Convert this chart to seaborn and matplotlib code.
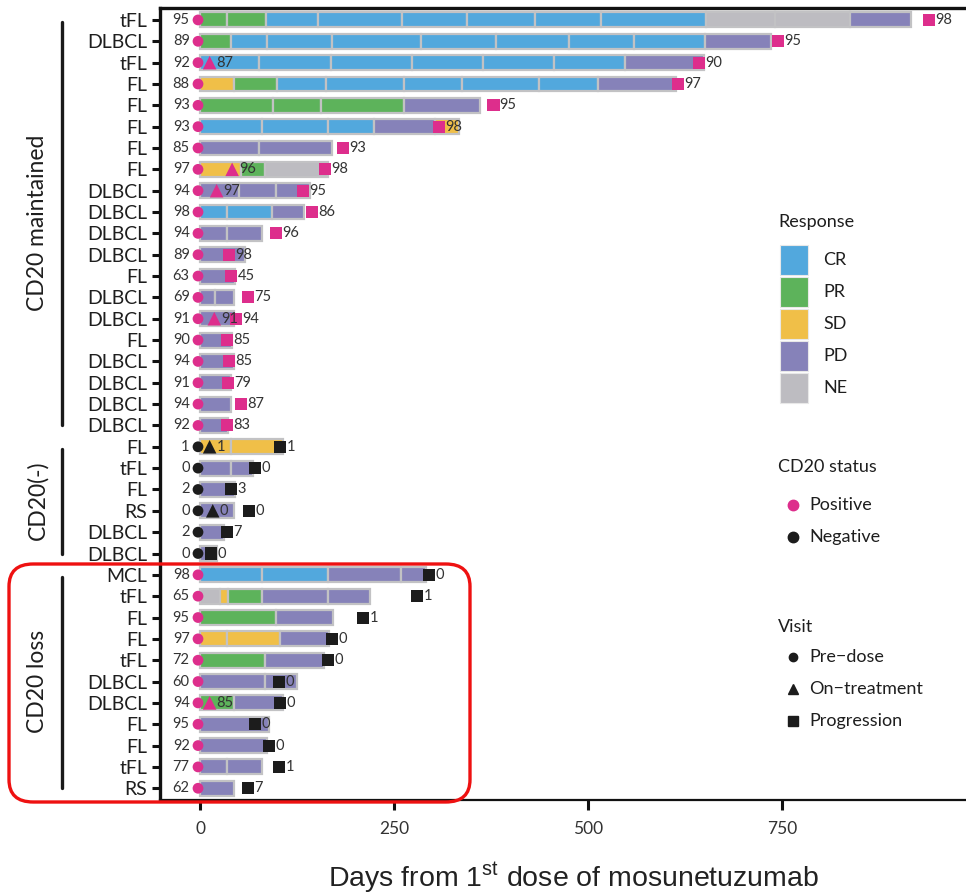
import numpy as np
import pandas as pd
import matplotlib
matplotlib.use("Agg")
import matplotlib.pyplot as plt
import matplotlib.transforms as mtransforms
from matplotlib.patches import Rectangle, FancyBboxPatch
from matplotlib.lines import Line2D
import seaborn as sns

# ---------------- data ----------------
histology = ["tFL", "DLBCL", "tFL", "FL", "FL", "FL", "FL", "FL", "DLBCL", "DLBCL",
             "DLBCL", "DLBCL", "FL", "DLBCL", "DLBCL", "FL", "DLBCL", "DLBCL", "DLBCL", "DLBCL",
             "FL", "tFL", "FL", "RS", "DLBCL", "DLBCL",
             "MCL", "tFL", "FL", "FL", "tFL", "DLBCL", "DLBCL", "FL", "FL", "tFL", "RS"]
group = ["CD20 maintained"] * 20 + ["CD20(-)"] * 6 + ["CD20 loss"] * 11
group_names = ["CD20 maintained", "CD20(-)", "CD20 loss"]

predose_pct = [95, 89, 92, 88, 93, 93, 85, 97, 94, 98, 94, 89, 63, 69, 91, 90, 94, 91, 94, 92,
               1, 0, 2, 0, 2, 0,
               98, 65, 95, 97, 72, 60, 94, 95, 92, 77, 62]

seg_resp = [
    ["PR", "PR", "CR", "CR", "CR", "CR", "CR", "CR", "NE", "NE", "PD"],
    ["PR", "CR", "CR", "CR", "CR", "CR", "CR", "CR", "PD"],
    ["CR", "CR", "CR", "CR", "CR", "CR", "PD"],
    ["SD", "PR", "CR", "CR", "CR", "CR", "CR", "PD"],
    ["PR", "PR", "PR", "PD"],
    ["CR", "CR", "CR", "PD", "SD"],
    ["PD", "PD"],
    ["SD", "PR", "NE"],
    ["PD", "PD", "PD"],
    ["CR", "CR", "PD"],
    ["PD", "PD"],
    ["PD"],
    ["PD"],
    ["PD", "PD"],
    ["PD"],
    ["PD"],
    ["PD"],
    ["PD"],
    ["PD"],
    ["PD"],
    ["SD", "SD"],
    ["PD", "PD"],
    ["PD"],
    ["PD"],
    ["PD"],
    ["PD"],
    ["CR", "CR", "PD", "PD"],
    ["NE", "SD", "PR", "PD", "PD"],
    ["PR", "PD"],
    ["SD", "SD", "PD"],
    ["PR", "PD"],
    ["PD", "PD"],
    ["PR", "PD"],
    ["PD"],
    ["PD"],
    ["PD", "PD"],
    ["PD"],
]
seg_end = [
    [35, 85, 152, 260, 344, 432, 517, 652, 741, 838, 916],
    [39, 86, 170, 284, 381, 476, 559, 651, 736],
    [76, 168, 273, 365, 456, 547, 649],
    [44, 99, 162, 262, 338, 437, 513, 613],
    [94, 155, 262, 360],
    [80, 165, 224, 303, 333],
    [76, 170],
    [52, 84, 165],
    [50, 98, 142],
    [35, 92, 134],
    [35, 80],
    [58],
    [45],
    [19, 43],
    [43],
    [41],
    [43],
    [40],
    [40],
    [36],
    [40, 106],
    [39, 68],
    [45],
    [43],
    [30],
    [22],
    [80, 165, 259, 291],
    [26, 36, 80, 164, 219],
    [97, 171],
    [35, 103, 166],
    [83, 159],
    [83, 125],
    [43, 107],
    [88],
    [86],
    [35, 80],
    [44],
]

ontreat_row = [2, 7, 8, 14, 20, 23, 32]
ontreat_day = [12, 41, 21, 18, 12, 16, 12]
ontreat_pct = [87, 96, 97, 91, 1, 0, 85]

prog_day = [939, 745, 643, 616, 378, 308, 184, 161, 133, 144, 98, 37, 40, 62, 46, 35, 37, 36, 52, 35,
            103, 71, 40, 63, 34, 14,
            295, 280, 210, 170, 165, 102, 103, 71, 89, 102, 61]
prog_pct = [98, 95, 90, 97, 95, 98, 93, 98, 95, 86, 96, 98, 45, 75, 94, 85, 85, 79, 87, 83,
            1, 0, 3, 0, 7, 0,
            0, 1, 1, 0, 0, 0, 0, 0, 0, 1, 7]

response_levels = ["CR", "PR", "SD", "PD", "NE"]
resp_colors = {"CR": "#52a8dd", "PR": "#5db35b", "SD": "#f0bf48", "PD": "#8682b9", "NE": "#bdbcc1"}
POS = "#dd2e8c"
NEG = "#1c1c1c"

# ---------------- style ----------------
sns.set_theme(style="ticks")
plt.rcParams["font.family"] = ["Lato", "DejaVu Sans"]
plt.rcParams["mathtext.fontset"] = "custom"
plt.rcParams["mathtext.rm"] = "Liberation Sans"

W, H = 966, 894
fig = plt.figure(figsize=(W / 100, H / 100), dpi=100)


def fx(px):
    return px / W


def fy(py):
    return 1 - py / H


ax = fig.add_axes([fx(160), fy(800), fx(972) - fx(160), fy(8) - fy(800)])

n = len(histology)
rows = np.arange(n)

# bars
for i in range(n):
    start = 0
    for r, e in zip(seg_resp[i], seg_end[i]):
        ax.barh(i, e - start, left=start, height=0.7, color=resp_colors[r],
                edgecolor="#c2c2c4", linewidth=1.6, zorder=2)
        start = e

# marker colors by group
pre_col = ["Negative" if g == "CD20(-)" else "Positive" for g in group]
prog_col = ["Positive" if g == "CD20 maintained" else "Negative" for g in group]
on_col = ["Negative" if group[r] == "CD20(-)" else "Positive" for r in ontreat_row]
pal = {"Positive": POS, "Negative": NEG}

pre_df = pd.DataFrame({"x": [-3] * n, "y": rows, "s": pre_col})
prog_df = pd.DataFrame({"x": prog_day, "y": rows, "s": prog_col})
on_df = pd.DataFrame({"x": ontreat_day, "y": ontreat_row, "s": on_col})

sns.scatterplot(data=pre_df, x="x", y="y", hue="s", palette=pal, marker="o", s=60,
                linewidth=0, legend=False, ax=ax, zorder=4, clip_on=False)
sns.scatterplot(data=prog_df, x="x", y="y", hue="s", palette=pal, marker="s", s=75,
                linewidth=0, legend=False, ax=ax, zorder=4)
sns.scatterplot(data=on_df, x="x", y="y", hue="s", palette=pal, marker="^", s=95,
                linewidth=0, legend=False, ax=ax, zorder=4)

txtc = "#333333"
for i in range(n):
    ax.annotate(str(predose_pct[i]), (-3, i), xytext=(-6, 0), textcoords="offset points",
                ha="right", va="center", fontsize=10.5, color=txtc, zorder=5)
    ax.annotate(str(prog_pct[i]), (prog_day[i], i), xytext=(4.5, 0), textcoords="offset points",
                ha="left", va="center", fontsize=10.5, color=txtc, zorder=5)
for r, d, p in zip(ontreat_row, ontreat_day, ontreat_pct):
    ax.annotate(str(p), (d, r), xytext=(5, 0), textcoords="offset points",
                ha="left", va="center", fontsize=10.5, color=txtc, zorder=5)

ax.set_xlim(-52, 995)
ax.set_ylim(n - 1 + 0.55, -0.56)
ax.set_yticks(rows)
ax.set_yticklabels(histology, fontsize=14, color="#1e1e1e")
ax.set_xticks([0, 250, 500, 750])
ax.set_xticklabels(["0", "250", "500", "750"], fontsize=12.5, color="#333333")
ax.tick_params(axis="y", length=6, width=2.2, pad=3, color="#111111")
ax.tick_params(axis="x", length=7, width=2.2, pad=8, color="#111111")
for sp in ["left", "top"]:
    ax.spines[sp].set_linewidth(2.4)
ax.spines["bottom"].set_linewidth(1.6)
ax.spines["right"].set_visible(False)
for sp in ax.spines.values():
    sp.set_color("#111111")
ax.set_xlabel("")
ax.set_ylabel("")

fig.text(fx(574), fy(878), r"Days from 1$^{\rm st}$ dose of mosunetuzumab",
         ha="center", va="center", fontsize=20.5, family="Liberation Sans", color="#222222")

# group brackets
trans = mtransforms.blended_transform_factory(fig.transFigure, ax.transData)
for g in group_names:
    idx = [i for i in range(n) if group[i] == g]
    a, b = min(idx), max(idx)
    fig.add_artist(Line2D([fx(62), fx(62)], [a + 0.1, b], transform=trans,
                          color="#1a1a1a", linewidth=2.4))
    fig.text(fx(38), (a + b) / 2, g, transform=trans, rotation=90, ha="center",
             va="center", fontsize=16.5, color="#1e1e1e")

# red rounded box
fig.add_artist(FancyBboxPatch((fx(9), fy(802)), fx(470) - fx(9), fy(564) - fy(802),
                              boxstyle="round,pad=0,rounding_size=0.025",
                              transform=fig.transFigure, fill=False,
                              edgecolor="#ee1111", linewidth=2.4, zorder=10))

# legends
lf = 13
fig.text(fx(778), fy(222), "Response", fontsize=lf, va="center", ha="left", color="#1e1e1e")
box_top = [245, 277, 309, 341, 373]
for lvl, t in zip(response_levels, box_top):
    fig.add_artist(Rectangle((fx(780), fy(t + 30)), fx(808) - fx(780), fy(t) - fy(t + 30),
                             transform=fig.transFigure, facecolor=resp_colors[lvl],
                             edgecolor="#e8e8e8", linewidth=0.8))
    fig.text(fx(823), fy(t + 15), lvl, fontsize=lf, va="center", ha="left", color="#1e1e1e")

fig.text(fx(778), fy(467), "CD20 status", fontsize=lf, va="center", ha="left", color="#1e1e1e")
for lab, yy, c in [("Positive", 505, POS), ("Negative", 537, NEG)]:
    fig.add_artist(Line2D([fx(793)], [fy(yy)], marker="o", markersize=7.5, color=c,
                          linestyle="none", transform=fig.transFigure))
    fig.text(fx(809), fy(yy), lab, fontsize=lf, va="center", ha="left", color="#1e1e1e")

fig.text(fx(778), fy(627), "Visit", fontsize=lf, va="center", ha="left", color="#1e1e1e")
for lab, yy, m, ms in [("Pre\u2212dose", 657, "o", 6), ("On\u2212treatment", 689, "^", 7.5),
                       ("Progression", 721, "s", 6.5)]:
    fig.add_artist(Line2D([fx(793)], [fy(yy)], marker=m, markersize=ms, color=NEG,
                          linestyle="none", transform=fig.transFigure))
    fig.text(fx(809), fy(yy), lab, fontsize=lf, va="center", ha="left", color="#1e1e1e")

fig.savefig("out.png", dpi=100)
